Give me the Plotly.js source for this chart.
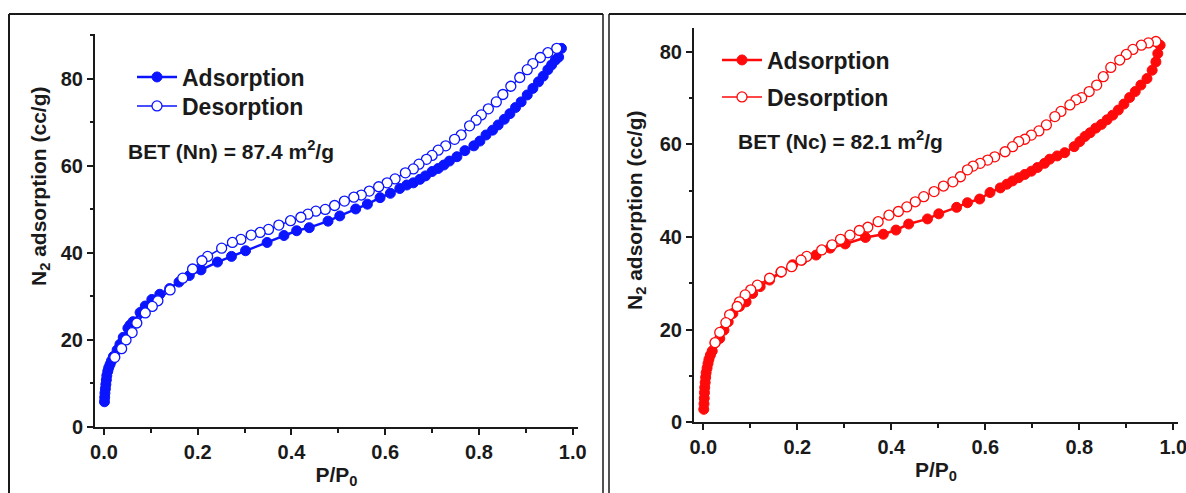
<!DOCTYPE html>
<html>
<head>
<meta charset="utf-8">
<script src="https://cdn.plot.ly/plotly-3.0.1.min.js"></script>
<style>
html,body{margin:0;padding:0;background:#fff;}
#chart{width:1186px;height:493px;}
</style>
</head>
<body>
<div id="chart"></div>
<script>
// ---------- Data ----------
// Left panel: Nn sample (blue)
const nnAdsX = [0.001,0.0015,0.002,0.003,0.004,0.005,0.006,0.008,0.010,0.013,0.016,0.020,0.028,0.034,0.041,0.051,0.0555,0.062,0.077,0.088,0.102,0.119,0.140,0.160,0.182,0.207,0.242,0.272,0.302,0.348,0.384,0.411,0.438,0.478,0.503,0.537,0.562,0.589,0.611,0.631,0.646,0.660,0.674,0.686,0.700,0.713,0.725,0.737,0.753,0.770,0.789,0.802,0.815,0.829,0.841,0.854,0.866,0.878,0.890,0.903,0.915,0.927,0.937,0.947,0.955,0.963,0.970,0.976];
const nnAdsY = [5.8,6.8,7.8,8.8,9.8,10.8,11.8,12.8,13.6,14.4,15.2,16.2,17.7,19.0,20.6,22.7,23.4,24.2,26.3,27.8,29.3,30.5,31.8,33.3,34.8,36.1,37.9,39.2,40.5,42.4,44.0,45.1,45.8,47.3,48.5,50.1,51.2,52.7,53.7,54.8,55.6,56.1,56.9,57.7,58.7,59.4,60.2,61.1,62.1,63.5,64.6,65.7,67.1,68.2,69.4,70.7,72.0,73.4,74.7,76.3,77.8,79.3,80.6,82.1,83.2,84.3,85.0,87.0];
const nnDesX = [0.966,0.947,0.931,0.915,0.903,0.887,0.868,0.851,0.837,0.820,0.805,0.794,0.780,0.762,0.748,0.729,0.713,0.700,0.688,0.672,0.660,0.643,0.621,0.604,0.586,0.566,0.549,0.533,0.513,0.492,0.472,0.452,0.435,0.420,0.398,0.373,0.351,0.333,0.314,0.292,0.274,0.251,0.221,0.209,0.189,0.168,0.141,0.115,0.103,0.088,0.070,0.060,0.047,0.0376,0.023];
const nnDesY = [87.0,86.0,84.9,83.5,82.1,80.3,78.3,76.4,74.7,73.1,71.7,70.5,69.2,67.1,66.1,64.6,63.6,62.4,61.5,60.4,59.3,58.4,57.0,56.1,55.2,54.2,53.3,52.8,51.9,50.9,50.0,49.6,48.9,48.2,47.4,46.4,45.4,44.7,44.1,43.1,42.4,41.1,39.2,38.2,36.3,34.2,31.5,29.0,27.7,26.2,23.9,21.7,20.0,18.0,16.0];

// Right panel: Nc sample (red)
const ncAdsX = [0.001,0.0015,0.002,0.0025,0.003,0.004,0.005,0.006,0.008,0.010,0.012,0.015,0.019,0.025,0.035,0.044,0.053,0.063,0.077,0.091,0.105,0.121,0.141,0.165,0.190,0.210,0.240,0.270,0.302,0.345,0.383,0.410,0.437,0.477,0.501,0.539,0.562,0.588,0.610,0.632,0.646,0.658,0.671,0.684,0.698,0.711,0.726,0.737,0.753,0.769,0.789,0.801,0.812,0.823,0.835,0.847,0.859,0.871,0.883,0.895,0.907,0.919,0.931,0.944,0.955,0.963,0.967,0.972];
const ncAdsY = [2.8,4.0,5.2,6.4,7.5,8.6,9.7,10.7,11.7,12.7,13.6,14.5,15.4,17.1,18.1,19.9,21.7,23.5,25.0,26.0,27.8,29.3,30.7,32.4,34.0,35.0,36.1,37.6,38.5,39.9,40.6,41.5,42.8,43.9,45.0,46.4,47.4,48.2,49.6,50.6,51.4,52.1,52.8,53.5,54.2,55.0,55.9,56.8,57.5,58.2,59.5,60.6,61.7,62.5,63.5,64.3,65.3,66.3,67.4,68.7,70.1,71.4,72.8,74.2,76.0,77.8,79.6,81.4];
const ncDesX = [0.963,0.947,0.932,0.914,0.900,0.886,0.867,0.851,0.837,0.821,0.805,0.793,0.780,0.761,0.748,0.730,0.714,0.698,0.684,0.671,0.658,0.642,0.620,0.605,0.589,0.574,0.562,0.547,0.531,0.511,0.491,0.469,0.451,0.433,0.415,0.395,0.372,0.350,0.332,0.312,0.292,0.274,0.252,0.220,0.208,0.188,0.166,0.141,0.115,0.101,0.089,0.077,0.072,0.056,0.048,0.035,0.025];
const ncDesY = [82.2,81.9,81.4,80.5,79.4,78.2,76.6,74.6,72.8,71.4,70.1,69.6,68.5,67.1,66.0,64.2,62.9,62.0,61.1,60.6,59.5,58.4,57.3,56.6,55.9,55.3,54.5,53.0,51.9,51.0,49.8,48.7,47.6,46.5,45.5,44.7,43.3,42.1,41.4,40.4,39.5,38.3,37.2,35.8,35.0,33.6,32.5,31.1,29.6,28.6,27.5,26.0,25.0,23.2,21.5,19.4,17.2];

const seriesNames = ["Adsorption", "Desorption"];
const betTexts = ["BET (Nn) = 87.4 m<sup>2</sup>/g", "BET (Nc) = 82.1 m<sup>2</sup>/g"];
const xTitle = "P/P<sub>0</sub>";
const yTitle = "N<sub>2</sub> adsorption (cc/g)";

// ---------- Helpers ----------
const W = 1186, H = 493;
const px = x => x / W;
const py = y => 1 - y / H;
const FONT = "Liberation Sans, Arial, Helvetica, sans-serif";
const INK = "#1a1a1a";
const BLUE = "#0a14ff";
const RED = "#ff0a0a";

function adsTrace(x, y, color, xa, ya, lg) {
  return {x, y, xaxis: xa, yaxis: ya, type: "scatter", mode: "lines+markers",
    name: seriesNames[0], legend: lg,
    line: {color, width: 2.5},
    marker: {symbol: "circle", size: 10, color, line: {color, width: 1}}};
}
function desTrace(x, y, color, xa, ya, lg) {
  return {x, y, xaxis: xa, yaxis: ya, type: "scatter", mode: "lines+markers",
    name: seriesNames[1], legend: lg,
    line: {color, width: 1.5},
    marker: {symbol: "circle", size: 10, color: "#ffffff", line: {color, width: 1.3}}};
}

const data = [
  adsTrace(nnAdsX, nnAdsY, BLUE, "x", "y", "legend"),
  desTrace(nnDesX, nnDesY, BLUE, "x", "y", "legend2"),
  adsTrace(ncAdsX, ncAdsY, RED, "x2", "y2", "legend3"),
  desTrace(ncDesX, ncDesY, RED, "x2", "y2", "legend4")
];

function xAxis(domain, range, anchor) {
  return {domain, range, anchor, showgrid: false, zeroline: false,
    showline: true, linecolor: INK, linewidth: 2,
    ticks: "outside", ticklen: 6, tickwidth: 2, tickcolor: INK,
    tick0: 0, dtick: 0.2, tickformat: ".1f", ticklabeloverflow: "allow",
    minor: {ticks: "outside", ticklen: 3.5, tickwidth: 2, tickcolor: INK, dtick: 0.1, showgrid: false},
    tickfont: {family: FONT, size: 20, color: INK, weight: "bold"},
    title: {text: xTitle, standoff: 5, font: {family: FONT, size: 21, color: INK, weight: "bold"}}};
}
function yAxis(domain, range, anchor) {
  return {domain, range, anchor, showgrid: false, zeroline: false,
    showline: true, linecolor: INK, linewidth: 2,
    ticks: "outside", ticklen: 6, tickwidth: 2, tickcolor: INK,
    tick0: 0, dtick: 20,
    minor: {ticks: "outside", ticklen: 3.5, tickwidth: 2, tickcolor: INK, dtick: 10, showgrid: false},
    tickfont: {family: FONT, size: 20, color: INK, weight: "bold"}};
}

function legendAt(xPix, yPix) {
  return {x: px(xPix), y: py(yPix), xref: "paper", yref: "paper",
    xanchor: "left", yanchor: "middle", bgcolor: "rgba(0,0,0,0)",
    borderwidth: 0, itemwidth: 40,
    font: {family: FONT, size: 23, color: INK, weight: "bold"}};
}

const borderLine = {color: INK, width: 2};
const shapes = [
  // left panel frame
  {type: "line", xref: "paper", yref: "paper", x0: px(9), x1: px(603), y0: py(14), y1: py(14), line: borderLine},
  {type: "line", xref: "paper", yref: "paper", x0: px(9), x1: px(9), y0: py(14), y1: 0, line: borderLine},
  {type: "line", xref: "paper", yref: "paper", x0: px(603), x1: px(603), y0: py(14), y1: 0, line: {color: INK, width: 1.5}},
  // right panel frame
  {type: "line", xref: "paper", yref: "paper", x0: px(609), x1: px(609), y0: py(14), y1: 0, line: {color: INK, width: 1.5}},
  {type: "line", xref: "paper", yref: "paper", x0: px(609), x1: 1, y0: py(14), y1: py(14), line: borderLine}
];

const titleFont = {family: FONT, size: 21, color: INK, weight: "bold"};
const betFont = {family: FONT, size: 21, color: INK, weight: "bold"};
const annotations = [
  {text: betTexts[0], xref: "paper", yref: "paper", x: px(126), y: py(150), xanchor: "left", yanchor: "middle",
   showarrow: false, font: betFont},
  {text: betTexts[1], xref: "paper", yref: "paper", x: px(736), y: py(140), xanchor: "left", yanchor: "middle",
   showarrow: false, font: betFont},
  // y-axis titles
  {text: yTitle, xref: "paper", yref: "paper", x: px(40), y: py(186), xanchor: "center", yanchor: "middle",
   textangle: -90, showarrow: false, font: titleFont},
  {text: yTitle, xref: "paper", yref: "paper", x: px(636), y: py(210), xanchor: "center", yanchor: "middle",
   textangle: -90, showarrow: false, font: titleFont}
];

const layout = {
  width: W, height: H,
  margin: {l: 0, r: 0, t: 0, b: 0},
  paper_bgcolor: "#ffffff", plot_bgcolor: "#ffffff",
  showlegend: true,
  xaxis: xAxis([px(95), px(578)], [-0.0192, 1.0113], "y"),
  yaxis: yAxis([py(427), py(34)], [0, 90.3], "x"),
  xaxis2: xAxis([px(694), px(1178)], [-0.0198, 1.0100], "y2"),
  yaxis2: yAxis([py(422.3), py(28.3)], [0, 85.05], "x2"),
  legend: legendAt(132, 77),
  legend2: legendAt(132, 106),
  legend3: legendAt(717, 60),
  legend4: legendAt(717, 97),
  shapes, annotations
};

Plotly.newPlot("chart", data, layout, {staticPlot: true, displayModeBar: false});
</script>
</body>
</html>
